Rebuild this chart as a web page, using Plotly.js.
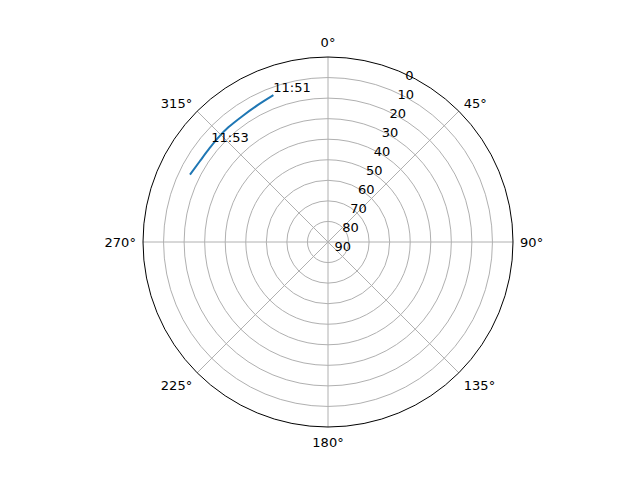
<!DOCTYPE html>
<html>
<head>
<meta charset="utf-8">
<script src="https://cdn.plot.ly/plotly-3.0.1.min.js"></script>
<style>
  html, body { margin: 0; padding: 0; background: #fff; }
  #chart { width: 640px; height: 480px; }
</style>
</head>
<body>
<div id="chart"></div>
<script>
// satellite track: azimuth (deg, clockwise from north) and elevation (deg)
const azimuth = [339.6, 333.1, 326.2, 319.0, 313.7, 308.5, 302.2, 296.0];
const elevation = [13.8, 15.1, 15.9, 16.1, 16.3, 16.5, 16.3, 15.3];

// time marks along the track
const markTimes = ["11:51", "11:53"];
const markAzimuth = [339.6, 309.6];
const markElevation = [13.6, 16.3];

const angTicks = [0, 45, 90, 135, 180, 225, 270, 315];
const radTicks = [0, 10, 20, 30, 40, 50, 60, 70, 80, 90];

const track = {
    type: "scatterpolar",
    mode: "lines",
    r: elevation,
    theta: azimuth,
    line: {color: "#1f77b4", width: 2, shape: "spline", smoothing: 1},
    showlegend: false,
    hoverinfo: "skip",
};

const marks = {
    type: "scatterpolar",
    mode: "text",
    r: markElevation,
    theta: markAzimuth,
    text: markTimes,
    textposition: "top right",
    textfont: {family: "DejaVu Sans", size: 13, color: "#000"},
    showlegend: false,
    hoverinfo: "skip",
};

const layout = {
    width: 640,
    height: 480,
    margin: {l: 143, r: 127, t: 57, b: 53},
    paper_bgcolor: "#fff",
    font: {family: "DejaVu Sans", size: 13, color: "#000"},
    showlegend: false,
    polar: {
        bgcolor: "#fff",
        domain: {x: [0, 1], y: [0, 1]},
        angularaxis: {
            rotation: 90,
            direction: "clockwise",
            tickmode: "array",
            tickvals: angTicks,
            ticktext: angTicks.map(a => a + "°"),
            showline: true,
            linecolor: "#000",
            linewidth: 1,
            gridcolor: "#b0b0b0",
            gridwidth: 1,
            ticks: "outside",
            ticklen: 4,
            tickcolor: "rgba(0,0,0,0)",
            tickfont: {size: 13, color: "#000"},
        },
        radialaxis: {
            range: [90, 0],
            tickmode: "array",
            tickvals: radTicks,
            ticktext: radTicks.map(String),
            angle: 67.5,
            tickangle: 67.5,
            side: "clockwise",
            showline: false,
            ticks: "",
            gridcolor: "#b0b0b0",
            gridwidth: 1,
            tickfont: {size: 13, color: "#000"},
        },
    },
};

Plotly.newPlot("chart", [track, marks], layout, {staticPlot: true});
</script>
</body>
</html>
